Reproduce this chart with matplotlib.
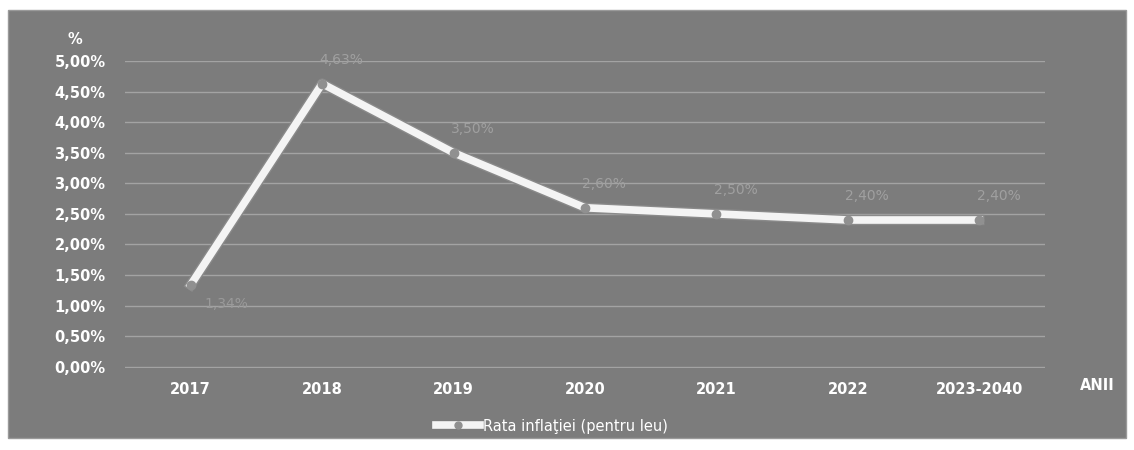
import numpy as np
import matplotlib.pyplot as plt
from matplotlib.patches import Rectangle

ani = ['2017', '2018', '2019', '2020', '2021', '2022', '2023-2040']
rata = [1.34, 4.63, 3.50, 2.60, 2.50, 2.40, 2.40]  # %
etichete = ['1,34%', '4,63%', '3,50%', '2,60%', '2,50%', '2,40%', '2,40%']
y_ticks = np.arange(0, 5.01, 0.5)

fig = plt.figure(figsize=(11.34, 4.5), dpi=100)
fig.patch.set_facecolor('white')

# fundalul gri al graficului
fig.add_artist(Rectangle((8 / 1134, 12 / 450), 1118 / 1134, 428 / 450,
                         transform=fig.transFigure, facecolor='#7c7c7c',
                         edgecolor='#9a9a9a', lw=1, zorder=-5))

ax = fig.add_axes([125 / 1134, 1 - 368 / 450, 920 / 1134, 307 / 450])
ax.set_zorder(2)
ax.set_facecolor('none')
x = np.arange(len(ani))

ax.plot(x, rata, '-', color='#8a8a8a', lw=7.5, zorder=3)
linie, = ax.plot(x, rata, '-', color='#f4f4f4', lw=5.5, zorder=4,
                 marker='o', ms=5, mfc='#909090', mec='#909090', markevery=[],
                 label='Rata inflaţiei (pentru leu)')
ax.plot(x, rata, 'o', color='#909090', ms=6, zorder=5)

for i, (v, t) in enumerate(zip(rata, etichete)):
    if i == 0:
        ax.annotate(t, (i, v), xytext=(10, -14), textcoords='offset points',
                    color='#9a9a9a', fontsize=10, va='center')
    else:
        ax.annotate(t, (i, v), xytext=(-2, 12), textcoords='offset points',
                    color='#a0a0a0', fontsize=10, va='bottom')

ax.set_xlim(-0.5, len(ani) - 0.5)
ax.set_ylim(-0.02, 5)
ax.set_yticks(y_ticks)
ax.set_yticklabels([f'{v:.2f}%'.replace('.', ',') for v in y_ticks])
ax.set_xticks(x)
ax.set_xticklabels(ani)
ax.tick_params(length=0, colors='white', labelsize=10.5, pad=10)
ax.tick_params(axis='y', pad=14)
for lab in ax.get_xticklabels() + ax.get_yticklabels():
    lab.set_fontweight('bold')
ax.grid(axis='y', color='#a3a3a3', lw=1)
ax.set_axisbelow(True)
for s in ax.spines.values():
    s.set_visible(False)

fig.text(75 / 1134, 1 - 40 / 450, '%', color='white', fontsize=10.5,
         fontweight='bold', ha='center', va='center')
fig.text(1097 / 1134, 1 - 386 / 450, 'ANII', color='white', fontsize=10.5,
         fontweight='bold', ha='center', va='center')

leg = fig.legend(handles=[linie], loc='center', bbox_to_anchor=(552 / 1134, 1 - 426 / 450),
                 frameon=False, fontsize=10.5, handlelength=3, handletextpad=0.2)
for t in leg.get_texts():
    t.set_color('white')

fig.savefig('out.png', dpi=100)
